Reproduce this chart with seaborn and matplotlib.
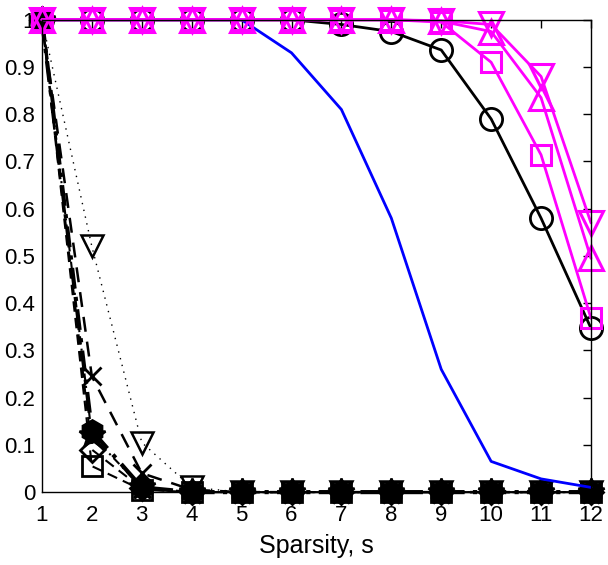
import numpy as np
import pandas as pd
import matplotlib
matplotlib.use("Agg")
import matplotlib.pyplot as plt
import seaborn as sns

# =====================
# DATA
# =====================
sparsity = list(range(1, 13))

# fast-decaying black curves
black_v = [1, 0.52, 0.105, 0.01, 0, 0, 0, 0, 0, 0, 0, 0]
black_x = [1, 0.245, 0.04, 0.005, 0, 0, 0, 0, 0, 0, 0, 0]
black_h = [1, 0.13, 0.01, 0, 0, 0, 0, 0, 0, 0, 0, 0]
black_p = [1, 0.12, 0.01, 0, 0, 0, 0, 0, 0, 0, 0, 0]
black_d = [1, 0.09, 0.008, 0, 0, 0, 0, 0, 0, 0, 0, 0]
black_s = [1, 0.055, 0.005, 0, 0, 0, 0, 0, 0, 0, 0, 0]

# slow-decaying curves
blue_line = [1, 1, 1, 1, 1, 0.93, 0.81, 0.58, 0.26, 0.065, 0.028, 0.01]
black_o = [1, 1, 1, 1, 1, 1, 0.99, 0.975, 0.936, 0.79, 0.58, 0.347]
mag_s = [1, 1, 1, 1, 1, 1, 1, 1, 0.995, 0.91, 0.714, 0.368]
mag_up = [1, 1, 1, 1, 1, 1, 1, 1, 0.997, 0.975, 0.835, 0.495]
mag_down = [1, 1, 1, 1, 1, 1, 1, 1, 0.998, 0.99, 0.88, 0.57]

series = {
    "bv": black_v, "bx": black_x, "bh": black_h, "bp": black_p,
    "bd": black_d, "bs": black_s, "blue": blue_line, "bo": black_o,
    "ms": mag_s, "mu": mag_up, "md": mag_down,
}
df = pd.concat(
    [pd.DataFrame({"s": sparsity, "val": v, "name": k}) for k, v in series.items()],
    ignore_index=True,
)

# style per series: colour, marker, marker size, fill, dash pattern, line width, edge width
styles = {
    "bv": ("black", "v", 16, "none", (1, 4), 1.0, 1.8),
    "bx": ("black", "x", 13, "none", (6, 4), 1.8, 2.0),
    "bh": ("black", "h", 16, "black", (5, 2, 1, 2), 3.0, 1.8),
    "bp": ("black", "*", 20, "black", (4, 2, 1, 2), 1.5, 1.8),
    "bd": ("black", "D", 12, "none", (5, 3), 1.5, 2.0),
    "bs": ("black", "s", 15, "none", (5, 3), 1.5, 2.0),
    "blue": ("blue", None, 0, "none", None, 2.0, 1.0),
    "bo": ("black", "o", 16, "none", None, 2.0, 2.0),
    "ms": ("magenta", "s", 15, "none", None, 2.0, 2.2),
    "mu": ("magenta", "^", 17, "none", None, 2.0, 2.2),
    "md": ("magenta", "v", 17, "none", None, 2.0, 2.2),
}

# =====================
# PLOT
# =====================
sns.set_style("white")
plt.rcParams["font.family"] = ["Liberation Sans", "DejaVu Sans"]
plt.rcParams["text.color"] = "black"
plt.rcParams["xtick.color"] = "black"
plt.rcParams["ytick.color"] = "black"
plt.rcParams["axes.labelcolor"] = "black"

fig = plt.figure(figsize=(6.08, 5.65), dpi=100)
ax = fig.add_axes([0.069, 0.129, 0.903, 0.836])

for name, (col, mk, ms, fc, dash, lw, mew) in styles.items():
    sub = df[df["name"] == name]
    sns.lineplot(data=sub, x="s", y="val", ax=ax, color=col, lw=lw,
                 marker=mk, markersize=ms,
                 markerfacecolor=fc, markeredgecolor=col, markeredgewidth=mew,
                 legend=False, clip_on=False)
    if dash is not None:
        ax.lines[-1].set_dashes(dash)

ax.set_xlim(1, 12)
ax.set_ylim(0, 1)
ax.set_xticks(sparsity)
ax.set_yticks(np.round(np.arange(0, 1.01, 0.1), 1))
ax.set_yticklabels(["0"] + [f"{v:.1f}" for v in np.arange(0.1, 0.95, 0.1)] + ["1"])
ax.tick_params(direction="in", length=6, width=1, labelsize=16,
               top=True, right=True, colors="black")
ax.tick_params(axis="x", pad=9)
ax.tick_params(axis="y", pad=5)
ax.set_xlabel("Sparsity, s", fontsize=18, labelpad=6, color="black")
ax.set_ylabel("")
for sp in ax.spines.values():
    sp.set_color("black")
    sp.set_linewidth(1.0)

plt.savefig("out.png", dpi=100)
plt.close()
